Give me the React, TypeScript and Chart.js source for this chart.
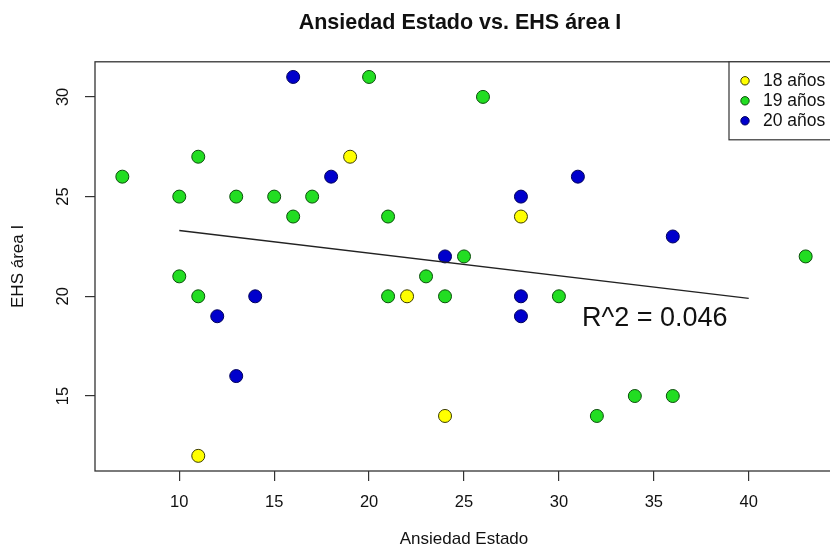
import React, { useEffect, useRef } from "react";
import { Chart, registerables } from "chart.js";

Chart.register(...registerables);

// ---- Data ----
const age18X = [11, 19, 22, 24, 28];
const age18Y = [12, 27, 20, 14, 24];

const age19X = [7, 10, 10, 11, 11, 13, 15, 16, 17, 20, 21, 21, 23, 24, 25, 26, 30, 32, 34, 36, 43];
const age19Y = [26, 25, 21, 27, 20, 25, 25, 24, 25, 31, 24, 20, 21, 20, 22, 30, 20, 14, 15, 15, 22];

const age20X = [12, 13, 14, 16, 18, 24, 28, 28, 28, 31, 36];
const age20Y = [19, 16, 20, 31, 26, 22, 25, 20, 19, 26, 23];

const fitX = [10, 40];
const fitY = [23.3, 19.9];

const xTicks = [10, 15, 20, 25, 30, 35, 40];
const yTicks = [15, 20, 25, 30];

const legendLabels = ["18 años", "19 años", "20 años"];
const r2Label = "R^2 = 0.046";
const r2Pos = { x: 35, y: 19 };

const FONT = "'Liberation Sans', Arial, Helvetica, sans-serif";
const colors = ["#ffff00", "#22dd22", "#0000cc"];
const borders = ["#3a3a00", "#0b4d0b", "#00005a"];

const zip = (xs: number[], ys: number[]) => xs.map((x, i) => ({ x, y: ys[i] }));

const rPlugin = {
  id: "rstyle",
  afterDraw(chart: any) {
    const { ctx, chartArea, scales } = chart;
    const xs = scales.x;
    const ys = scales.y;
    ctx.save();
    // box
    ctx.strokeStyle = "#333";
    ctx.lineWidth = 1.3;
    ctx.strokeRect(chartArea.left, chartArea.top, chartArea.right - chartArea.left, chartArea.bottom - chartArea.top);
    // y tick labels rotated
    ctx.fillStyle = "#111";
    ctx.font = `16.5px ${FONT}`;
    ctx.textAlign = "center";
    ctx.textBaseline = "middle";
    yTicks.forEach((v) => {
      const py = ys.getPixelForValue(v);
      ctx.save();
      ctx.translate(63, py);
      ctx.rotate(-Math.PI / 2);
      ctx.fillText(String(v), 0, 0);
      ctx.restore();
    });
    // R^2 label
    ctx.font = `27px ${FONT}`;
    ctx.fillStyle = "#111";
    ctx.textAlign = "center";
    ctx.textBaseline = "middle";
    ctx.fillText(r2Label, xs.getPixelForValue(r2Pos.x) + 1, ys.getPixelForValue(r2Pos.y) + 2);
    // legend
    const lx = 729;
    const ly = chartArea.top;
    ctx.fillStyle = "#fff";
    ctx.fillRect(lx, ly, 200, 78);
    ctx.strokeStyle = "#333";
    ctx.lineWidth = 1.2;
    ctx.strokeRect(lx, ly, 200, 78);
    ctx.font = `17.5px ${FONT}`;
    ctx.textAlign = "left";
    legendLabels.forEach((lab, i) => {
      const cy = ly + 19 + i * 20;
      ctx.beginPath();
      ctx.arc(745, cy, 4.2, 0, Math.PI * 2);
      ctx.fillStyle = colors[i];
      ctx.fill();
      ctx.strokeStyle = borders[i];
      ctx.lineWidth = 1;
      ctx.stroke();
      ctx.fillStyle = "#111";
      ctx.fillText(lab, 763, cy);
    });
    ctx.restore();
  },
};

export default function App() {
  const ref = useRef<HTMLCanvasElement | null>(null);
  useEffect(() => {
    document.body.style.margin = "0";
    const canvas = ref.current!;
    const pointDs = (i: number, xs: number[], ys: number[]) => ({
      type: "scatter" as const,
      label: legendLabels[i],
      data: zip(xs, ys),
      backgroundColor: colors[i],
      borderColor: borders[i],
      borderWidth: 1,
      pointRadius: 6.5,
      pointHoverRadius: 6.5,
    });
    const chart = new Chart(canvas, {
      type: "scatter",
      data: {
        datasets: [
          {
            type: "line" as const,
            label: "fit",
            data: zip(fitX, fitY),
            borderColor: "#222",
            borderWidth: 1.3,
            pointRadius: 0,
            fill: false,
          } as any,
          pointDs(0, age18X, age18Y),
          pointDs(1, age19X, age19Y),
          pointDs(2, age20X, age20Y),
        ],
      },
      options: {
        animation: false,
        responsive: false,
        devicePixelRatio: 1,
        layout: { padding: 0 },
        plugins: {
          legend: { display: false },
          tooltip: { enabled: false },
          title: {
            display: true,
            text: "Ansiedad Estado vs. EHS área I",
            color: "#111",
            font: { family: FONT, size: 21.5, weight: "bold" },
            padding: { top: 10, bottom: 26 },
          },
        },
        scales: {
          x: {
            type: "linear",
            min: 5.56,
            max: 44.44,
            afterBuildTicks: (s: any) => {
              s.ticks = xTicks.map((v) => ({ value: v }));
            },
            afterFit: (s: any) => {
              s.height = 79;
            },
            grid: {
              drawOnChartArea: false,
              drawTicks: true,
              tickLength: 10,
              color: "#333",
              lineWidth: 1.2,
            },
            border: { display: false },
            ticks: {
              color: "#111",
              font: { family: FONT, size: 16.5 },
              padding: 12,
              maxRotation: 0,
              autoSkip: false,
              callback: (v: any) => String(v),
            },
            title: {
              display: true,
              text: "Ansiedad Estado",
              color: "#111",
              font: { family: FONT, size: 17 },
              padding: { top: 0, bottom: 0 },
            },
          },
          y: {
            type: "linear",
            min: 11.24,
            max: 31.76,
            afterBuildTicks: (s: any) => {
              s.ticks = yTicks.map((v) => ({ value: v }));
            },
            afterFit: (s: any) => {
              s.width = 95;
            },
            grid: {
              drawOnChartArea: false,
              drawTicks: true,
              tickLength: 10,
              color: "#333",
              lineWidth: 1.2,
            },
            border: { display: false },
            ticks: { display: false },
            title: {
              display: true,
              text: "EHS área I",
              color: "#111",
              font: { family: FONT, size: 17 },
              padding: { top: 8, bottom: 0 },
            },
          },
          yRight: {
            type: "linear",
            position: "right",
            display: true,
            min: 0,
            max: 1,
            afterFit: (s: any) => {
              s.width = 87;
            },
            grid: { display: false, drawTicks: false },
            border: { display: false },
            ticks: { display: false },
          },
        },
      },
      plugins: [rPlugin],
    });
    return () => chart.destroy();
  }, []);
  return (
    <div style={{ position: "absolute", left: 0, top: 0, width: 830, height: 550, overflow: "hidden", background: "#fff" }}>
      <canvas ref={ref} width={920} height={550} style={{ display: "block" }} />
    </div>
  );
}
